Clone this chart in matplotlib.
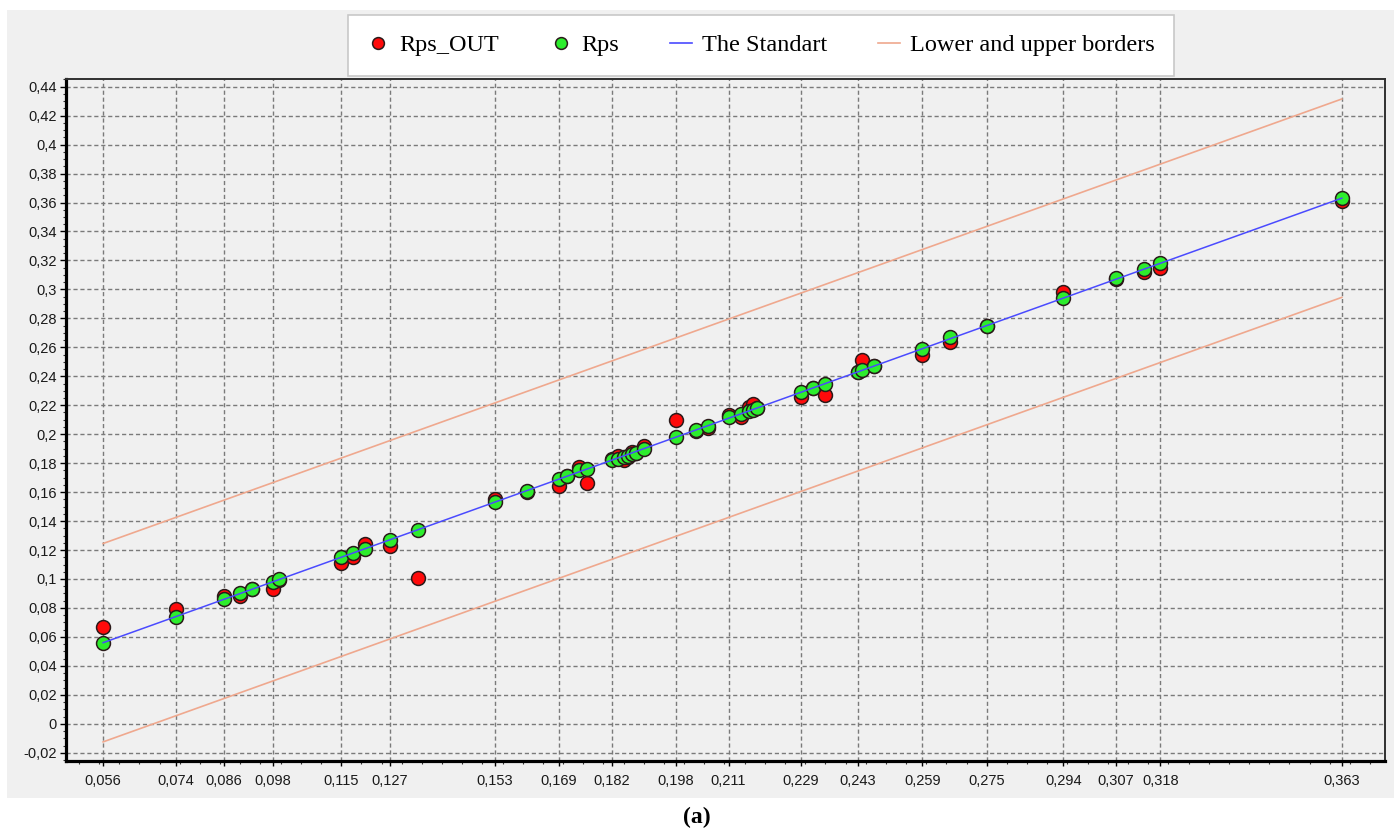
import matplotlib
matplotlib.use("Agg")
import matplotlib.pyplot as plt
from matplotlib.lines import Line2D
from matplotlib.patches import Rectangle
from matplotlib.ticker import MultipleLocator

# Measured points: x position, reference value (Rps) and model output (Rps_OUT)
x_vals = [0.056, 0.074, 0.086, 0.090, 0.093, 0.098, 0.0995, 0.115, 0.118, 0.121,
          0.127, 0.134, 0.153, 0.161, 0.169, 0.171, 0.174, 0.176, 0.182, 0.1835,
          0.185, 0.186, 0.187, 0.188, 0.190, 0.198, 0.203, 0.206, 0.211, 0.214,
          0.216, 0.217, 0.218, 0.229, 0.232, 0.235, 0.243, 0.244, 0.247, 0.259,
          0.266, 0.275, 0.294, 0.307, 0.314, 0.318, 0.363]
rps = [0.056, 0.074, 0.086, 0.090, 0.093, 0.098, 0.100, 0.115, 0.118, 0.121,
       0.127, 0.134, 0.153, 0.161, 0.169, 0.171, 0.175, 0.176, 0.182, 0.183,
       0.184, 0.185, 0.186, 0.187, 0.190, 0.198, 0.203, 0.206, 0.212, 0.214,
       0.216, 0.217, 0.218, 0.229, 0.232, 0.235, 0.243, 0.244, 0.247, 0.259,
       0.267, 0.275, 0.294, 0.308, 0.314, 0.318, 0.363]
rps_out = [0.067, 0.079, 0.088, 0.088, 0.093, 0.093, 0.099, 0.111, 0.115, 0.124,
           0.123, 0.101, 0.155, 0.160, 0.164, 0.171, 0.177, 0.166, 0.183, 0.185,
           0.182, 0.184, 0.188, 0.187, 0.192, 0.210, 0.202, 0.204, 0.213, 0.212,
           0.219, 0.221, 0.218, 0.226, 0.232, 0.227, 0.243, 0.251, 0.247, 0.255,
           0.264, 0.275, 0.298, 0.307, 0.312, 0.315, 0.361]

standard_x = [0.056, 0.363]
border_offset = 0.0685

x_tick_values = [0.056, 0.074, 0.086, 0.098, 0.115, 0.127, 0.153, 0.169, 0.182,
                 0.198, 0.211, 0.229, 0.243, 0.259, 0.275, 0.294, 0.307, 0.318, 0.363]
y_tick_values = [-0.02, 0.0, 0.02, 0.04, 0.06, 0.08, 0.10, 0.12, 0.14, 0.16, 0.18,
                 0.20, 0.22, 0.24, 0.26, 0.28, 0.30, 0.32, 0.34, 0.36, 0.38, 0.40,
                 0.42, 0.44]

legend_labels = ["Rps_OUT", "Rps", "The Standart", "Lower and upper borders"]

RED = "#ff0a0a"
GREEN = "#2ded2d"
EDGE = "#2a1a1a"
BLUE = "#4a4aff"
SALMON = "#efa88e"
PANEL = "#f0f0f0"


def comma_label(v):
    s = f"{round(v, 4):g}"
    if s == "-0":
        s = "0"
    return s.replace(".", ",")


plt.rcParams["font.family"] = ["Liberation Sans", "DejaVu Sans"]

W, H = 1394, 833
fig = plt.figure(figsize=(W / 100, H / 100), dpi=100)
fig.patch.set_facecolor("white")

# grey chart panel behind everything
fig.patches.append(Rectangle((7 / W, 1 - 798 / H), (W - 7) / W, (798 - 10) / H,
                             transform=fig.transFigure, facecolor=PANEL,
                             edgecolor="none", zorder=-10))

ax = fig.add_axes([66 / W, 1 - 761 / H, (1385 - 66) / W, (761 - 79) / H])
ax.set_facecolor(PANEL)

ax.scatter(x_vals, rps_out, s=100, c=RED, edgecolors=EDGE, linewidths=1.1, zorder=3)
ax.scatter(x_vals, rps, s=100, c=GREEN, edgecolors=EDGE, linewidths=1.1, zorder=4)

ax.plot(standard_x, standard_x, color=BLUE, lw=1.1, zorder=5)
ax.plot(standard_x, [v + border_offset for v in standard_x], color=SALMON, lw=1.2, zorder=5)
ax.plot(standard_x, [v - border_offset for v in standard_x], color=SALMON, lw=1.2, zorder=5)

ax.set_xlim(0.0468, 0.3737)
ax.set_ylim(-0.0257, 0.4453)

ax.set_xticks(x_tick_values)
ax.set_xticklabels([comma_label(v) for v in x_tick_values])
ax.set_yticks(y_tick_values)
ax.set_yticklabels([comma_label(v) for v in y_tick_values])
ax.xaxis.set_minor_locator(MultipleLocator(0.005))
ax.yaxis.set_minor_locator(MultipleLocator(0.005))

ax.tick_params(axis="x", which="major", direction="out", length=3.6, width=1,
               color="black", pad=6, labelsize=10.5, labelcolor="#1a1a1a")
ax.tick_params(axis="y", which="major", direction="out", length=4.2, width=1,
               color="black", pad=2.5, labelsize=10.5, labelcolor="#1a1a1a")
ax.tick_params(axis="both", which="minor", direction="out", length=2.2, width=0.8,
               color="#333333")

ax.grid(True, which="major", color="#7a7a7a", linestyle=(0, (3, 2)), linewidth=1.0)
ax.set_axisbelow(True)

for side in ("left", "bottom"):
    ax.spines[side].set_linewidth(2.3)
    ax.spines[side].set_color("black")
for side in ("top", "right"):
    ax.spines[side].set_linewidth(1.4)
    ax.spines[side].set_color("#303030")

handles = [
    Line2D([], [], ls="none", marker="o", markersize=8.5, mfc=RED, mec=EDGE, mew=1.1),
    Line2D([], [], ls="none", marker="o", markersize=8.5, mfc=GREEN, mec=EDGE, mew=1.1),
    Line2D([], [], color=BLUE, lw=1.2),
    Line2D([], [], color=SALMON, lw=1.2),
]
leg = fig.legend(handles, legend_labels, ncol=4, loc="upper left",
                 bbox_to_anchor=(348 / W, 1 - 15 / H),
                 frameon=True, fancybox=False, shadow=False,
                 edgecolor="#c8c8c8", facecolor="white", framealpha=1.0,
                 prop={"family": "Liberation Serif", "size": 17.5},
                 handlelength=0.9, handletextpad=0.4, borderpad=0.8,
                 columnspacing=2.1, borderaxespad=0)
leg.get_frame().set_linewidth(1.2)

fig.text(697 / W, 1 - 817 / H, "(a)", ha="center", va="center", fontsize=17,
         fontweight="bold", family="Liberation Serif")

fig.savefig("out.png", dpi=100, facecolor="white")
